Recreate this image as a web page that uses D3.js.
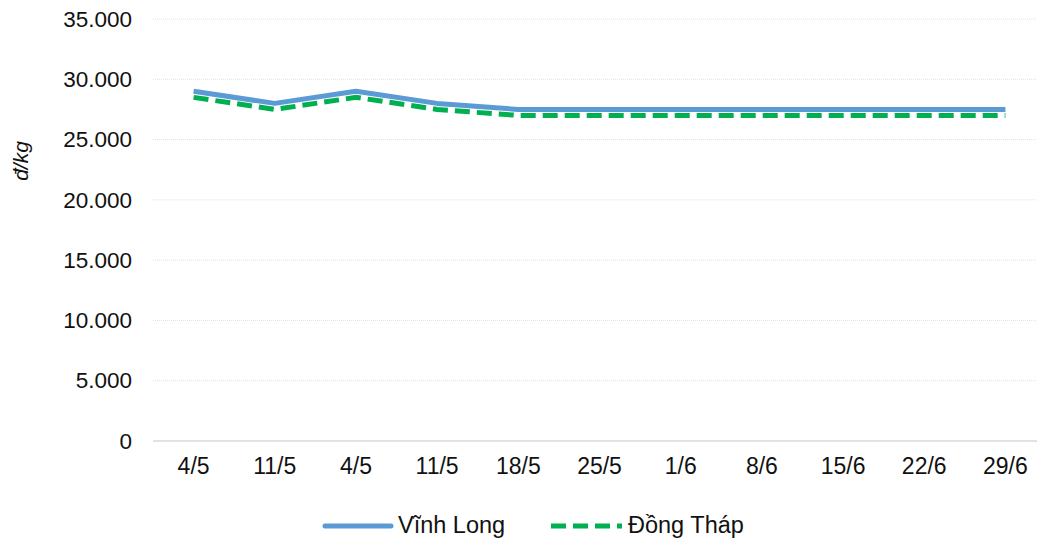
<!DOCTYPE html>
<html><head><meta charset="utf-8">
<script src="https://cdn.jsdelivr.net/npm/d3@7"></script>
<style>body{margin:0;background:#fff}svg{display:block;font-family:"Liberation Sans",Arial,sans-serif}</style>
</head><body><svg id="c" width="1037" height="539"></svg>
<script>
const categories = ["4/5","11/5","4/5","11/5","18/5","25/5","1/6","8/6","15/6","22/6","29/6"];
const vinhLong = [29000,28000,29000,28000,27500,27500,27500,27500,27500,27500,27500];
const dongThap = [28500,27500,28500,27500,27000,27000,27000,27000,27000,27000,27000];
const yTicks = [0,5000,10000,15000,20000,25000,30000,35000];
const seriesNames = ["Vĩnh Long","Đồng Tháp"];

const svg = d3.select("#c");
const x = d3.scaleBand().domain(d3.range(categories.length)).range([153, 1046]);
const y = d3.scaleLinear().domain([0,35000]).range([441, 19]);
const fmt = v => d3.format(",")(v).replace(/,/g,".");

// gridlines
svg.append("g").selectAll("line").data(yTicks.filter(d=>d>0)).join("line")
  .attr("x1",153).attr("x2",1037).attr("y1",d=>y(d)).attr("y2",d=>y(d))
  .attr("stroke","#e0e0e0").attr("stroke-width",1).attr("stroke-dasharray","1,1");

// y axis labels
const yAxis = d3.axisLeft(y).tickValues(yTicks).tickFormat(fmt).tickSize(0).tickPadding(0);
const yg = svg.append("g").attr("transform","translate(132,0)").call(yAxis);
yg.select(".domain").remove();
yg.selectAll("text").attr("font-size",22.5).attr("fill","#111").attr("font-family","Liberation Sans, Arial, sans-serif");

// x axis
const xAxis = d3.axisBottom(x).tickFormat(i=>categories[i]).tickSize(0).tickPadding(17);
const xg = svg.append("g").attr("transform","translate(0,441)").call(xAxis);
xg.select(".domain").attr("stroke","#d9d9d9").attr("stroke-width",1.5).attr("d","M153,0H1037");
xg.selectAll("text").attr("font-size",23).attr("fill","#111").attr("font-family","Liberation Sans, Arial, sans-serif");

// y title
svg.append("text").attr("transform","translate(28,161) rotate(-90)")
  .attr("text-anchor","middle").attr("font-size",21).attr("font-style","italic").attr("fill","#111").text("đ/kg");

const line = d3.line().x((d,i)=>x(i)+x.bandwidth()/2).y(d=>y(d));
svg.append("path").datum(vinhLong).attr("d",line).attr("fill","none")
  .attr("stroke","#5B9BD5").attr("stroke-width",5).attr("stroke-linejoin","round");
svg.append("path").datum(dongThap).attr("d",line).attr("fill","none")
  .attr("stroke","#00B050").attr("stroke-width",5).attr("stroke-dasharray","15,7");

// legend
const lg = svg.append("g");
lg.append("line").attr("x1",325).attr("x2",391).attr("y1",526).attr("y2",526)
  .attr("stroke","#5B9BD5").attr("stroke-width",5).attr("stroke-linecap","round");
lg.append("text").attr("x",398).attr("y",533).attr("font-size",23.5).attr("fill","#111").text(seriesNames[0]);
lg.append("line").attr("x1",551).attr("x2",622).attr("y1",526).attr("y2",526)
  .attr("stroke","#00B050").attr("stroke-width",5).attr("stroke-dasharray","15,7");
lg.append("text").attr("x",628).attr("y",533).attr("font-size",23.5).attr("fill","#111").text(seriesNames[1]);
</script></body></html>
